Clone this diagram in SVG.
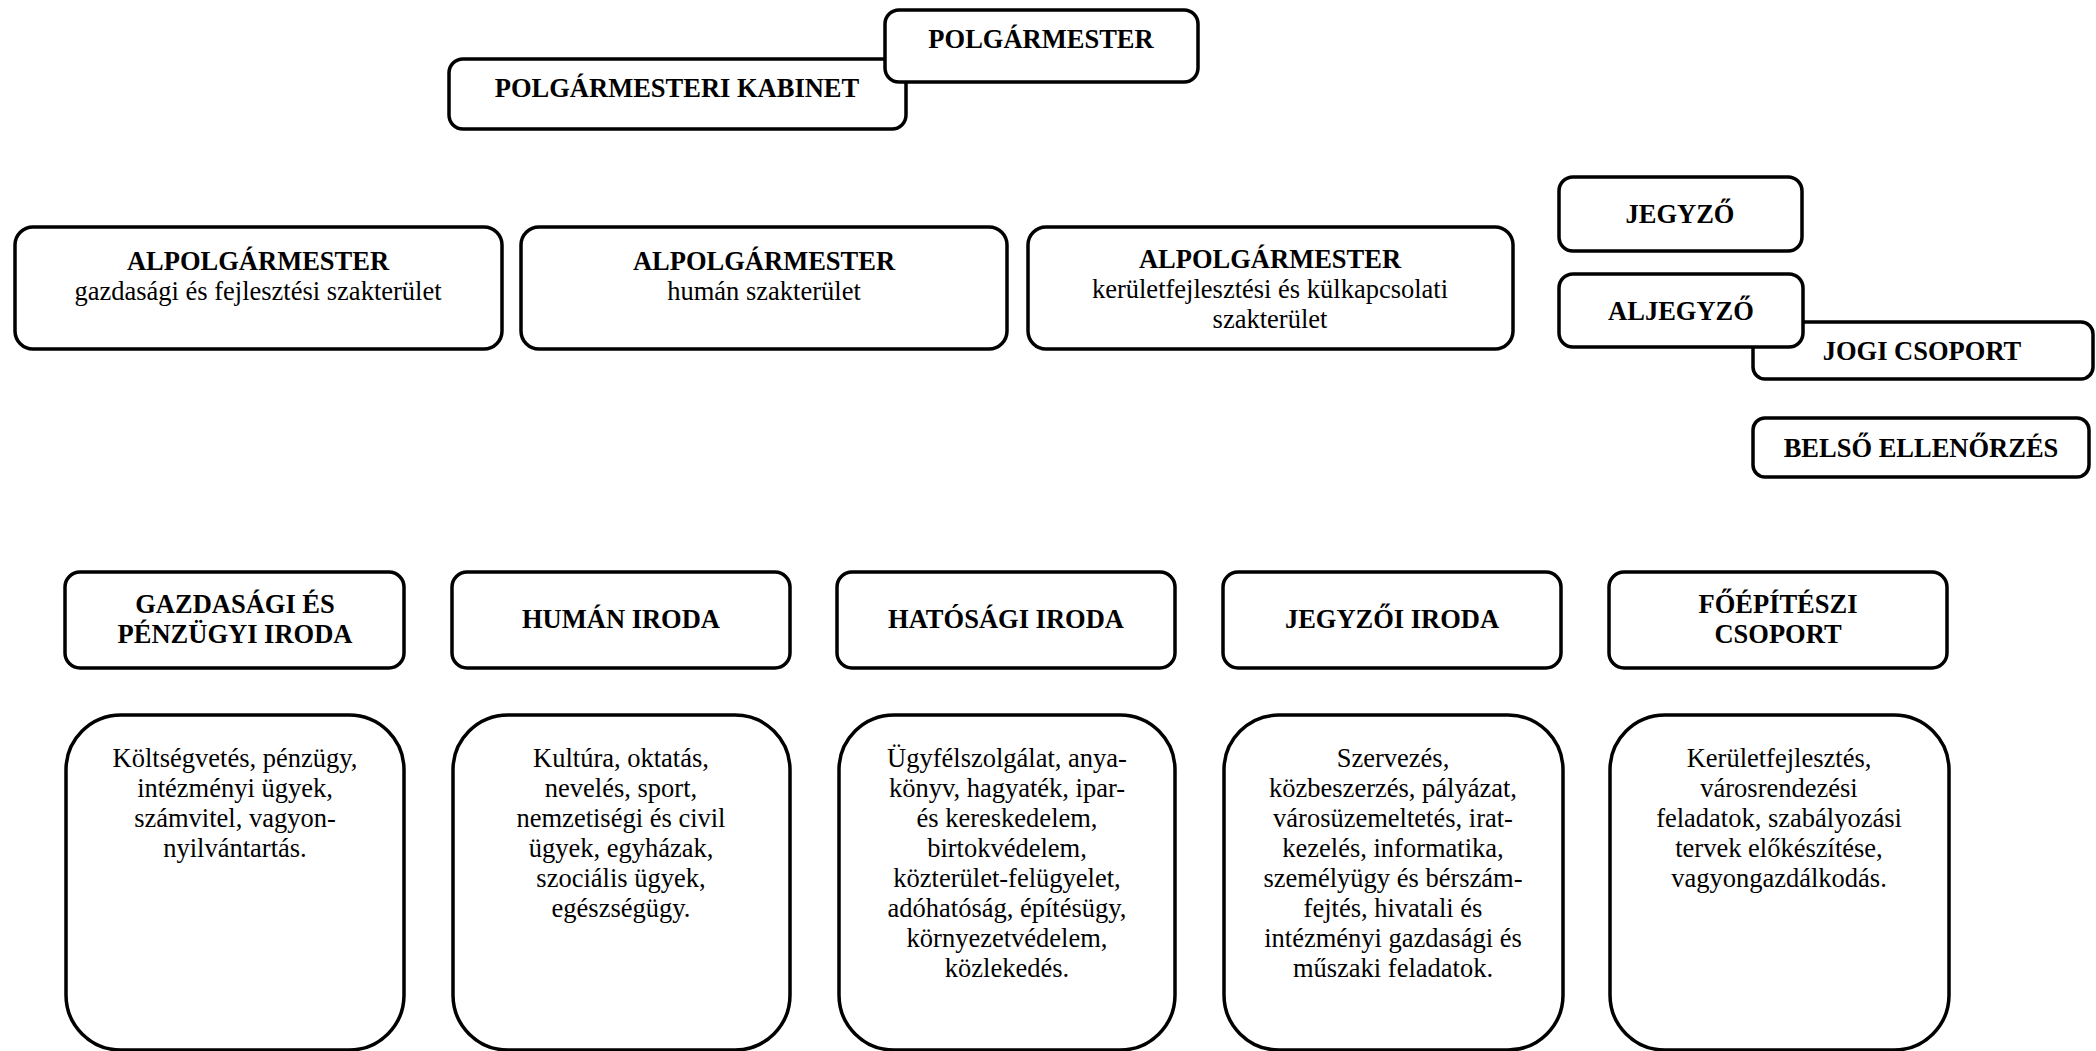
<svg xmlns="http://www.w3.org/2000/svg" width="2096" height="1051" viewBox="0 0 2096 1051">
<style>
.box{fill:#fff;stroke:#000;stroke-width:3.5}
.t{font-family:"Liberation Serif","Times New Roman",serif;font-size:26.5px;fill:#000;text-anchor:middle}
.b{font-weight:bold}
</style>
<rect width="2096" height="1051" fill="#fff"/>
<g id="connectors"></g>

<g id="polgarmesteri-kabinet">
<rect class="box" x="449" y="59" width="457" height="70" rx="14"/>
<text class="t b" x="677" y="97">POLGÁRMESTERI KABINET</text>
</g>
<g id="polgarmester">
<rect class="box" x="885" y="10" width="313" height="72" rx="14"/>
<text class="t b" x="1041" y="48">POLGÁRMESTER</text>
</g>

<g id="alpolgarmester-1">
<rect class="box" x="15" y="227" width="487" height="122" rx="18"/>
<text class="t b" x="258" y="270">ALPOLGÁRMESTER</text>
<text class="t" x="258" y="300">gazdasági és fejlesztési szakterület</text>
</g>
<g id="alpolgarmester-2">
<rect class="box" x="521" y="227" width="486" height="122" rx="18"/>
<text class="t b" x="764" y="270">ALPOLGÁRMESTER</text>
<text class="t" x="764" y="300">humán szakterület</text>
</g>
<g id="alpolgarmester-3">
<rect class="box" x="1028" y="227" width="485" height="122" rx="18"/>
<text class="t b" x="1270" y="268">ALPOLGÁRMESTER</text>
<text class="t" x="1270" y="298">kerületfejlesztési és külkapcsolati</text>
<text class="t" x="1270" y="328">szakterület</text>
</g>

<g id="jegyzo">
<rect class="box" x="1559" y="177" width="243" height="74" rx="14"/>
<text class="t b" x="1680" y="223">JEGYZŐ</text>
</g>
<g id="jogi-csoport">
<rect class="box" x="1753" y="322" width="340" height="57" rx="12"/>
<text class="t b" x="1922" y="360">JOGI CSOPORT</text>
</g>
<g id="aljegyzo">
<rect class="box" x="1559" y="274" width="244" height="73" rx="14"/>
<text class="t b" x="1681" y="320">ALJEGYZŐ</text>
</g>
<g id="belso-ellenorzes">
<rect class="box" x="1753" y="418" width="336" height="59" rx="12"/>
<text class="t b" x="1921" y="457">BELSŐ ELLENŐRZÉS</text>
</g>

<g id="gazdasagi-iroda">
<rect class="box" x="65" y="572" width="339" height="96" rx="15"/>
<text class="t b" x="235" y="613">GAZDASÁGI ÉS</text>
<text class="t b" x="235" y="643">PÉNZÜGYI IRODA</text>
</g>
<g id="human-iroda">
<rect class="box" x="452" y="572" width="338" height="96" rx="15"/>
<text class="t b" x="621" y="628">HUMÁN IRODA</text>
</g>
<g id="hatosagi-iroda">
<rect class="box" x="837" y="572" width="338" height="96" rx="15"/>
<text class="t b" x="1006" y="628">HATÓSÁGI IRODA</text>
</g>
<g id="jegyzoi-iroda">
<rect class="box" x="1223" y="572" width="338" height="96" rx="15"/>
<text class="t b" x="1392" y="628">JEGYZŐI IRODA</text>
</g>
<g id="foepiteszi-csoport">
<rect class="box" x="1609" y="572" width="338" height="96" rx="15"/>
<text class="t b" x="1778" y="613">FŐÉPÍTÉSZI</text>
<text class="t b" x="1778" y="643">CSOPORT</text>
</g>

<g id="feladat-gazdasagi">
<rect class="box" x="66" y="715" width="338" height="335" rx="55"/>
<text class="t" x="235" y="767">Költségvetés, pénzügy,</text>
<text class="t" x="235" y="797">intézményi ügyek,</text>
<text class="t" x="235" y="827">számvitel, vagyon-</text>
<text class="t" x="235" y="857">nyilvántartás.</text>
</g>
<g id="feladat-human">
<rect class="box" x="453" y="715" width="337" height="335" rx="55"/>
<text class="t" x="621" y="767">Kultúra, oktatás,</text>
<text class="t" x="621" y="797">nevelés, sport,</text>
<text class="t" x="621" y="827">nemzetiségi és civil</text>
<text class="t" x="621" y="857">ügyek, egyházak,</text>
<text class="t" x="621" y="887">szociális ügyek,</text>
<text class="t" x="621" y="917">egészségügy.</text>
</g>
<g id="feladat-hatosagi">
<rect class="box" x="839" y="715" width="336" height="335" rx="55"/>
<text class="t" x="1007" y="767">Ügyfélszolgálat, anya-</text>
<text class="t" x="1007" y="797">könyv, hagyaték, ipar-</text>
<text class="t" x="1007" y="827">és kereskedelem,</text>
<text class="t" x="1007" y="857">birtokvédelem,</text>
<text class="t" x="1007" y="887">közterület-felügyelet,</text>
<text class="t" x="1007" y="917">adóhatóság, építésügy,</text>
<text class="t" x="1007" y="947">környezetvédelem,</text>
<text class="t" x="1007" y="977">közlekedés.</text>
</g>
<g id="feladat-jegyzoi">
<rect class="box" x="1224" y="715" width="339" height="335" rx="55"/>
<text class="t" x="1393" y="767">Szervezés,</text>
<text class="t" x="1393" y="797">közbeszerzés, pályázat,</text>
<text class="t" x="1393" y="827">városüzemeltetés, irat-</text>
<text class="t" x="1393" y="857">kezelés, informatika,</text>
<text class="t" x="1393" y="887">személyügy és bérszám-</text>
<text class="t" x="1393" y="917">fejtés, hivatali és</text>
<text class="t" x="1393" y="947">intézményi gazdasági és</text>
<text class="t" x="1393" y="977">műszaki feladatok.</text>
</g>
<g id="feladat-foepiteszi">
<rect class="box" x="1610" y="715" width="339" height="335" rx="55"/>
<text class="t" x="1779" y="767">Kerületfejlesztés,</text>
<text class="t" x="1779" y="797">városrendezési</text>
<text class="t" x="1779" y="827">feladatok, szabályozási</text>
<text class="t" x="1779" y="857">tervek előkészítése,</text>
<text class="t" x="1779" y="887">vagyongazdálkodás.</text>
</g>
</svg>
